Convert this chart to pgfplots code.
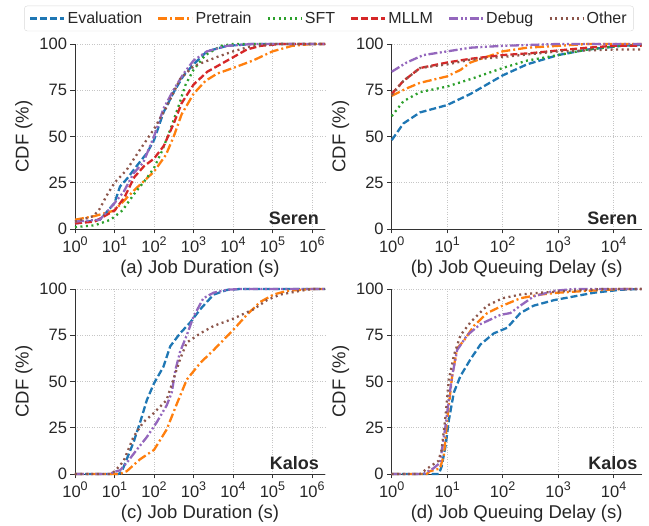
\documentclass[border=0pt]{standalone}
\usepackage{fontspec}
\setmainfont{Liberation Sans}
\usepackage{pgfplots}
\pgfplotsset{compat=1.18}

\definecolor{cblue}{HTML}{1F77B4}
\definecolor{corange}{HTML}{FF7F0E}
\definecolor{cgreen}{HTML}{2CA02C}
\definecolor{cred}{HTML}{D62728}
\definecolor{cpurple}{HTML}{9467BD}
\definecolor{cbrown}{HTML}{8C564B}

\newcommand{\tk}{\fontsize{16.5}{19}\selectfont}
\newcommand{\lb}{\fontsize{18.5}{22}\selectfont}
\newcommand{\tp}[1]{10\raisebox{0.42em}{\fontsize{12.5}{13}\selectfont #1}}

\pgfplotsset{
  cdf/.style={
    scale only axis, width=250pt, height=185pt,
    xmin=0, ymin=0, ymax=100,
    axis x line*=bottom, axis y line*=left,
    axis line style={black!80, line width=0.9pt},
    tick style={black!80, line width=0.8pt},
    major tick length=4.5pt, tick align=outside,
    ytick={0,25,50,75,100},
    /pgf/number format/assume math mode=true,
    tick label style={font=\tk, text=black!85},
    label style={font=\lb, text=black!85},
    ylabel={CDF (\%)},
    grid=major, grid style={dotted, gray!45, line width=0.6pt},
    clip=false,
  },
  longx/.style={xmax=6.33, xtick={0,...,6},
    xticklabels={\tp{0},\tp{1},\tp{2},\tp{3},\tp{4},\tp{5},\tp{6}}},
  shortx/.style={xmax=4.507, xtick={0,...,4},
    xticklabels={\tp{0},\tp{1},\tp{2},\tp{3},\tp{4}}},
  eval/.style={cblue, line width=2.3pt, dash pattern=on 7pt off 3pt},
  pre/.style={corange, line width=2.3pt, dash pattern=on 9pt off 3pt on 2pt off 3pt},
  sft/.style={cgreen, line width=2.3pt, dash pattern=on 2pt off 3.5pt},
  mllm/.style={cred, line width=2.3pt, dash pattern=on 7pt off 3pt},
  dbg/.style={cpurple, line width=2.3pt, dash pattern=on 9pt off 2.5pt on 2pt off 2.5pt on 2pt off 2.5pt},
  oth/.style={cbrown, line width=2.3pt, dash pattern=on 2pt off 3.5pt},
}

\begin{document}
\begin{tikzpicture}
\path[use as bounding box] (0,0) rectangle (649pt,526pt);

%% (a) Seren job duration
\begin{axis}[cdf, longx, at={(75pt,297pt)}, anchor=south west,
  xlabel={(a) Job Duration (s)},
  legend columns=6,
  legend style={at={(1.016,1.138)}, anchor=center, draw=black!15,
    rounded corners=3pt, font=\fontsize{16}{19}\selectfont, text=black!85,
    inner xsep=5pt, inner ysep=4pt,
    /tikz/every even column/.append style={column sep=13pt}},
  legend image code/.code={\draw[#1] (0pt,0pt) -- (34pt,0pt);},
]
\addplot[eval] coordinates {(0,3) (0.63,5) (1,14) (1.14,23) (1.31,27) (1.56,34) (1.82,41) (2,48) (2.24,63) (2.5,74) (2.75,83) (3,89) (3.34,96) (3.85,99) (4.5,100) (6.33,100)};
\addlegendentry{Evaluation}
\addplot[pre] coordinates {(0,5) (0.5,7) (1,10) (1.5,21) (2,31) (2.3,40) (2.5,50) (2.7,62) (3,73) (3.3,80) (3.6,84) (4,87) (4.5,91) (5,96) (5.5,99) (6,100) (6.33,100)};
\addlegendentry{Pretrain}
\addplot[sft] coordinates {(0,1) (0.5,2) (0.9,5) (1.2,10) (1.5,19) (1.8,27) (2,33) (2.2,42) (2.4,53) (2.6,65) (2.8,78) (3,86) (3.3,94) (3.7,99) (4,100) (6.33,100)};
\addlegendentry{SFT}
\addplot[mllm] coordinates {(0,3) (0.5,4) (1,10) (1.25,17) (1.5,28) (1.75,34) (2,38) (2.25,45) (2.5,57) (2.7,68) (3,78) (3.35,85) (3.85,91) (4.35,97) (4.7,99) (5.2,100) (6.33,100)};
\addlegendentry{MLLM}
\addplot[dbg] coordinates {(0,4) (0.63,5) (1,14) (1.23,20) (1.48,30) (1.73,36) (2,50) (2.24,65) (2.49,75) (2.75,84) (3,91) (3.34,96) (3.85,99) (4.5,100) (6.33,100)};
\addlegendentry{Debug}
\addplot[oth] coordinates {(0,4) (0.47,7) (0.63,11) (0.8,18) (1,25) (1.31,32) (1.65,43) (2,54) (2.32,66) (2.66,81) (3,88) (3.6,93) (4,96) (4.5,99) (5.1,100) (6.33,100)};
\addlegendentry{Other}
\node[anchor=base east, inner sep=0pt, font=\fontsize{18}{21}\selectfont\bfseries, text=black!85]
  at (rel axis cs:1,0) [xshift=-6pt, yshift=4pt] {Seren};
\end{axis}

%% (b) Seren queuing delay
\begin{axis}[cdf, shortx, at={(391.7pt,297pt)}, anchor=south west,
  xlabel={(b) Job Queuing Delay (s)}]
\addplot[eval] coordinates {(0,48) (0.21,57) (0.51,63) (1,67) (1.42,73) (2,83) (2.44,89) (3,94) (3.53,97) (4.13,99) (4.507,99.5)};
\addplot[pre] coordinates {(0,72) (0.27,76) (0.51,79) (1,82.5) (1.24,86) (1.42,90) (2,96) (2.44,98) (3,99) (3.53,100) (4.507,100)};
\addplot[sft] coordinates {(0,61) (0.21,69) (0.51,74) (1,77) (1.42,81) (2,87) (2.44,91) (3,94) (3.53,97) (4.13,99) (4.507,99.5)};
\addplot[mllm] coordinates {(0,73) (0.21,80) (0.51,87) (1,90) (1.42,92) (2,94) (2.5,95) (3,96.5) (3.53,98) (4,99) (4.507,99)};
\addplot[dbg] coordinates {(0,85) (0.27,90) (0.57,94) (1,96) (1.42,98) (2,99) (3,100) (4.507,100)};
\addplot[oth] coordinates {(0,72.5) (0.21,80) (0.51,87) (1,89) (1.42,91.5) (2,93) (3,96) (4,97) (4.507,97)};
\node[anchor=base east, inner sep=0pt, font=\fontsize{18}{21}\selectfont\bfseries, text=black!85]
  at (rel axis cs:1,0) [xshift=-4pt, yshift=4pt] {Seren};
\end{axis}

%% (c) Kalos job duration
\begin{axis}[cdf, longx, at={(75pt,52pt)}, anchor=south west,
  xlabel={(c) Job Duration (s)}]
\addplot[eval] coordinates {(0,0) (1.1,0) (1.18,1) (1.31,8) (1.48,17) (1.65,28) (1.82,40) (2,49) (2.24,58) (2.41,69) (2.66,76) (2.92,82) (3.17,89) (3.51,97) (3.85,99.5) (4.18,100) (6.33,100)};
\addplot[pre] coordinates {(0,0) (1.14,0) (1.31,1.5) (1.65,8) (2,13) (2.32,24) (2.58,38) (2.83,51) (3.17,60) (3.51,67) (4.01,78) (4.35,86) (4.69,93) (5.03,97) (5.37,99) (6,100) (6.33,100)};
\addplot[dbg] coordinates {(0,0) (0.89,0) (0.97,1) (1.14,2) (1.31,6) (1.56,13) (1.82,20) (2.07,28) (2.32,37) (2.45,44) (2.54,56) (2.66,66) (2.83,75) (3,85) (3.25,95) (3.51,98) (3.85,99.6) (4.2,100) (6.33,100)};
\addplot[oth] coordinates {(0,0) (0.89,0) (1.01,1.5) (1.23,7) (1.48,20) (1.73,28) (2,33) (2.32,40) (2.49,51) (2.66,62) (2.83,71) (3.17,76) (3.51,80) (4.01,84) (4.52,89) (4.86,94) (5.2,97) (5.7,99) (6,100) (6.33,100)};
\node[anchor=base east, inner sep=0pt, font=\fontsize{18}{21}\selectfont\bfseries, text=black!85]
  at (rel axis cs:1,0) [xshift=-6pt, yshift=4pt] {Kalos};
\end{axis}

%% (d) Kalos queuing delay
\begin{axis}[cdf, shortx, at={(391.7pt,52pt)}, anchor=south west,
  xlabel={(d) Job Queuing Delay (s)}]
\addplot[eval] coordinates {(0,0) (0.85,0) (0.9,4) (0.97,15) (1.03,29) (1.12,44) (1.24,53) (1.42,62) (1.6,70) (1.84,76) (2.08,79) (2.32,87) (2.56,91) (2.93,94) (3.29,96) (3.65,98) (4.13,99.6) (4.507,100)};
\addplot[pre] coordinates {(0,0) (0.63,0) (0.69,1.5) (0.87,3) (0.94,10) (1.0,29) (1.09,53) (1.18,68) (1.3,72) (1.48,80) (1.72,87) (2,91) (2.32,95) (2.68,97) (3,98) (3.53,99) (4.13,100) (4.507,100)};
\addplot[dbg] coordinates {(0,0) (0.57,0) (0.75,3) (0.87,6) (0.97,26) (1.03,40) (1.09,53) (1.18,67) (1.36,75) (1.6,81) (1.96,86) (2.14,87) (2.32,91) (2.56,96) (2.93,99) (3.29,100) (4.507,100)};
\addplot[oth] coordinates {(0,0) (0.51,0) (0.69,4) (0.84,7) (0.9,13) (0.97,31) (1.03,51) (1.12,64) (1.24,75) (1.42,82) (1.72,91) (2,95) (2.32,97) (2.68,98) (3.23,99) (3.83,100) (4.507,100)};
\node[anchor=base east, inner sep=0pt, font=\fontsize{18}{21}\selectfont\bfseries, text=black!85]
  at (rel axis cs:1,0) [xshift=-4pt, yshift=4pt] {Kalos};
\end{axis}
\end{tikzpicture}
\end{document}
